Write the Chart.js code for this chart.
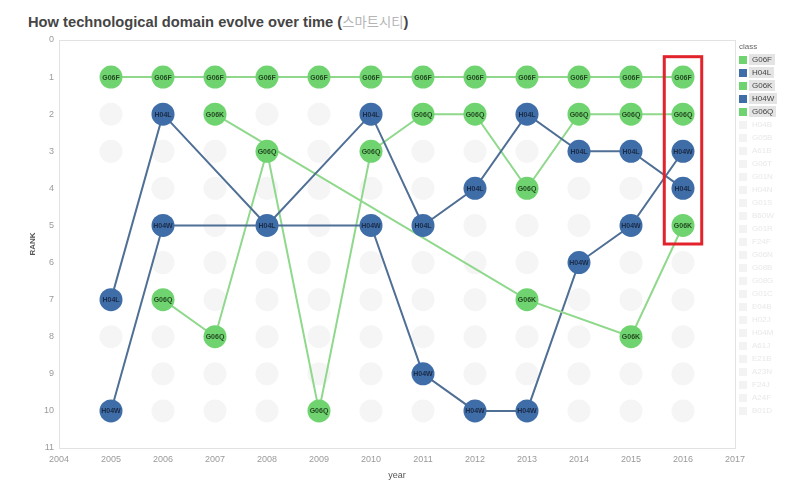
<!DOCTYPE html>
<html>
<head>
<meta charset="utf-8">
<script src="https://cdn.jsdelivr.net/npm/chart.js@4.4.1/dist/chart.umd.min.js"></script>
<style>
  body { margin: 0; width: 804px; height: 490px; background: #fff; overflow: hidden; position: relative;
         font-family: Arial, "Liberation Sans", sans-serif; }
  #title { position: absolute; left: 28px; top: 12px; font-size: 14.7px; font-weight: bold; color: #454545; white-space: nowrap; }
  #title .ko { color: #b4b4b4; font-family: "Noto Sans CJK KR", sans-serif; font-weight: normal; font-size: 13.3px; }
  #wrap { position: absolute; left: 0; top: 0; width: 804px; height: 490px; }
  #legend { position: absolute; left: 739px; top: 41px; font-size: 8px; color: #555; }
  #legend .head { height: 12px; line-height: 12px; color: #666; }
  .item { height: 13px; display: flex; align-items: center; }
  .sw { width: 8px; height: 8px; margin-right: 2px; }
  .lbl { padding: 0 3px; line-height: 11px; }
  .on .lbl { background: #e4e4e4; color: #444; }
  .off .lbl { color: #e8e8e8; }
</style>
</head>
<body>
<div id="title">How technological domain evolve over time (<span class="ko">스마트시티</span>)</div>
<div id="wrap"><canvas id="chart" width="804" height="490"></canvas></div>
<div id="legend"><div class="head">class</div></div>
<script>
// ---- DATA ----
const years = [2005, 2006, 2007, 2008, 2009, 2010, 2011, 2012, 2013, 2014, 2015, 2016];
// rank per year (null = not in the top 10 that year)
const rankG06F = [1, 1, 1, 1, 1, 1, 1, 1, 1, 1, 1, 1];
const rankH04L = [7, 2, null, 5, null, 2, 5, 4, 2, 3, 3, 4];
const rankG06K = [null, null, 2, null, null, null, null, null, 7, null, 8, 5];
const rankH04W = [10, 5, null, null, null, 5, 9, 10, 10, 6, 5, 3];
const rankG06Q = [null, 7, 8, 3, 10, 3, 2, 2, 4, 2, 2, 2];
// faded (filtered-out) classes, ranks per year
const otherRanks = [
  [2, 3, 8],
  [3, 4, 6, 8, 9, 10],
  [3, 4, 5, 6, 7, 9, 10],
  [2, 4, 6, 7, 8, 9, 10],
  [2, 3, 4, 5, 6, 7, 8, 9],
  [4, 6, 7, 8, 9, 10],
  [3, 4, 6, 7, 8, 10],
  [3, 5, 6, 7, 8, 9],
  [3, 5, 6, 8, 9],
  [4, 5, 7, 8, 9, 10],
  [4, 6, 7, 9, 10],
  [6, 7, 8, 9, 10],
];
const fadedClasses = ['H04B', 'G05B', 'A61B', 'G06T', 'G01N', 'H04N', 'G01S', 'B60W', 'G01R', 'F24F', 'G06N',
  'G08B', 'G08G', 'G01C', 'E04B', 'H02J', 'H04M', 'A61J', 'E21B', 'A23N', 'F24J', 'A24F', 'B01D'];
const highlightYear = 2016;
const highlightRanks = [0.45, 5.5];

const GREEN = '#6fd46f', BLUE = '#3f6da8';
const series = [
  {code: 'G06F', ranks: rankG06F, color: GREEN, line: '#8fd88c'},
  {code: 'H04L', ranks: rankH04L, color: BLUE, line: '#4f6f95'},
  {code: 'G06K', ranks: rankG06K, color: GREEN, line: '#8fd88c'},
  {code: 'H04W', ranks: rankH04W, color: BLUE, line: '#4f6f95'},
  {code: 'G06Q', ranks: rankG06Q, color: GREEN, line: '#8fd88c'},
];

// ---- LEGEND ----
const legend = document.getElementById('legend');
series.forEach(s => {
  legend.insertAdjacentHTML('beforeend',
    `<div class="item on"><div class="sw" style="background:${s.color}"></div><span class="lbl">${s.code}</span></div>`);
});
fadedClasses.forEach(c => {
  legend.insertAdjacentHTML('beforeend',
    `<div class="item off"><div class="sw" style="background:#f3f3f3"></div><span class="lbl">${c}</span></div>`);
});

// ---- DATASETS ----
const pts = ranks => years.map((y, i) => ({x: y, y: ranks[i]}));
const datasets = [];

const faded = [];
years.forEach((y, i) => otherRanks[i].forEach(r => faded.push({x: y, y: r})));
datasets.push({data: faded, showLine: false, pointRadius: 11.5, pointHoverRadius: 11.5,
  pointBackgroundColor: '#f5f5f5', pointBorderWidth: 0, order: 30});

series.forEach(s => {
  datasets.push({data: pts(s.ranks), spanGaps: true, borderColor: s.line, borderWidth: 2,
    pointRadius: 0, pointHoverRadius: 0, order: 20});
});
series.forEach(s => {
  datasets.push({data: pts(s.ranks).filter(p => p.y !== null), classCode: s.code, showLine: false,
    pointRadius: 11.5, pointHoverRadius: 11.5, pointBackgroundColor: s.color, pointBorderWidth: 0, order: 10});
});

// ---- PLUGINS ----
const frame = {
  id: 'frame',
  beforeDatasetsDraw(chart) {
    const {ctx, chartArea: a} = chart;
    ctx.save();
    ctx.strokeStyle = '#e2e2e2';
    ctx.lineWidth = 1;
    ctx.strokeRect(a.left + 0.5, a.top + 0.5, a.right - a.left, a.bottom - a.top);
    ctx.restore();
  }
};

const circleText = {
  id: 'circleText',
  afterDatasetsDraw(chart) {
    const ctx = chart.ctx;
    ctx.save();
    ctx.font = 'bold 7px Arial, "Liberation Sans", sans-serif';
    ctx.textAlign = 'center';
    ctx.textBaseline = 'middle';
    chart.data.datasets.forEach((ds, i) => {
      if (!ds.classCode) return;
      ctx.fillStyle = ds.pointBackgroundColor === BLUE ? '#1b2c47' : '#234a22';
      chart.getDatasetMeta(i).data.forEach(p => ctx.fillText(ds.classCode, p.x, p.y + 0.5));
    });
    ctx.restore();
  }
};

const redBox = {
  id: 'redBox',
  afterDatasetsDraw(chart) {
    const {ctx, scales: {x, y}} = chart;
    const step = x.getPixelForValue(highlightYear) - x.getPixelForValue(highlightYear - 1);
    const cx = x.getPixelForValue(highlightYear);
    const top = y.getPixelForValue(highlightRanks[0]);
    const bot = y.getPixelForValue(highlightRanks[1]);
    ctx.save();
    ctx.strokeStyle = '#e3232c';
    ctx.lineWidth = 3;
    ctx.strokeRect(cx - step * 0.36, top, step * 0.72, bot - top);
    ctx.restore();
  }
};

// ---- CHART ----
new Chart(document.getElementById('chart'), {
  type: 'line',
  data: {datasets},
  options: {
    responsive: false,
    animation: false,
    events: [],
    layout: {padding: {top: 40, right: 69, left: 0, bottom: 0}},
    plugins: {legend: {display: false}, tooltip: {enabled: false}},
    scales: {
      x: {
        type: 'linear', min: 2004, max: 2017,
        ticks: {stepSize: 1, color: '#9a9a9a', font: {size: 9}, padding: 6, callback: v => String(v)},
        grid: {display: false, drawTicks: false},
        border: {display: false},
        title: {display: true, text: 'year', color: '#555', font: {size: 9}, padding: {top: 0, bottom: 9}},
        afterFit: s => { s.height = 42; },
      },
      y: {
        type: 'linear', min: 0, max: 11, reverse: true,
        ticks: {stepSize: 1, color: '#9a9a9a', font: {size: 9}, padding: 5},
        grid: {display: false, drawTicks: false},
        border: {display: false},
        title: {display: true, text: 'RANK', color: '#555', font: {size: 8, weight: 'bold'}, padding: {top: 28, bottom: 0}},
        afterFit: s => { s.width = 59; },
      },
    },
  },
  plugins: [frame, circleText, redBox],
});
</script>
</body>
</html>
